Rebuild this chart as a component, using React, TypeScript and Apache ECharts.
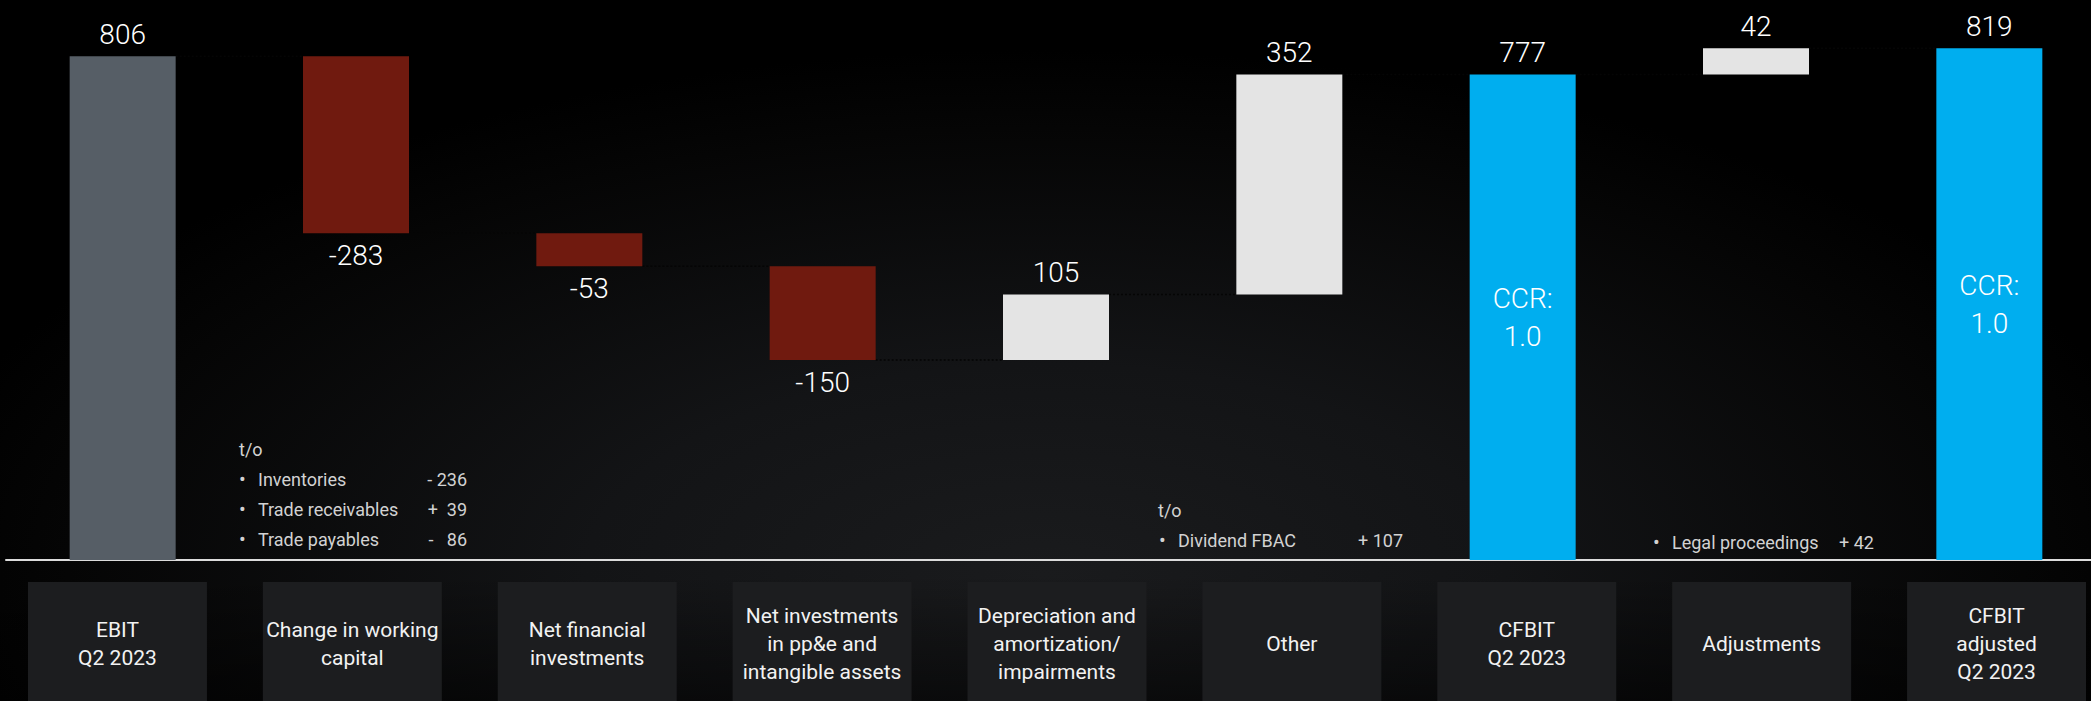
import React, { useEffect, useRef } from 'react';
import * as echarts from 'echarts';

const CATEGORIES = [
  'EBIT\nQ2 2023',
  'Change in working\ncapital',
  'Net financial\ninvestments',
  'Net investments\nin pp&e and\nintangible assets',
  'Depreciation and\namortization/\nimpairments',
  'Other',
  'CFBIT\nQ2 2023',
  'Adjustments',
  'CFBIT\nadjusted\nQ2 2023',
];
const VALUES = [806, -283, -53, -150, 105, 352, 777, 42, 819];
const IS_TOTAL = [true, false, false, false, false, false, true, false, true];
const INSIDE_LABELS = ['', '', '', '', '', '', 'CCR:\n1.0', '', 'CCR:\n1.0'];

const NOTE_WC_HEAD = 't/o';
const NOTE_WC_ITEMS = ['Inventories', 'Trade receivables', 'Trade payables'];
const NOTE_WC_VALUES = ['- 236', '+  39', '-   86'];
const NOTE_OTHER_HEAD = 't/o';
const NOTE_OTHER_ITEMS = ['Dividend FBAC'];
const NOTE_OTHER_VALUES = ['+ 107'];
const NOTE_ADJ_ITEMS = ['Legal proceedings'];
const NOTE_ADJ_VALUES = ['+ 42'];

const FONT = 'Roboto, "Noto Sans", sans-serif';
const C_EBIT = '#565e66';
const C_NEG = '#701a0f';
const C_POS = '#e4e4e4';
const C_TOTAL = '#00aeef';
const BAR_W = 106;

export default function App() {
  const ref = useRef<HTMLDivElement>(null);
  useEffect(() => {
    const chart = echarts.init(ref.current as HTMLDivElement, null, { renderer: 'svg' });

    const bases: number[] = [];
    const heights: number[] = [];
    const levels: number[] = [];
    let running = 0;
    VALUES.forEach((v, i) => {
      if (IS_TOTAL[i]) {
        bases.push(0);
        heights.push(v);
        running = v;
      } else if (v < 0) {
        running += v;
        bases.push(running);
        heights.push(-v);
      } else {
        bases.push(running);
        heights.push(v);
        running += v;
      }
      levels.push(running);
    });

    const colorOf = (i: number) => {
      if (IS_TOTAL[i]) return i === 0 ? C_EBIT : C_TOTAL;
      return VALUES[i] < 0 ? C_NEG : C_POS;
    };

    const deltaData = heights.map((h, i) => ({
      value: h,
      itemStyle: { color: colorOf(i) },
      label: {
        show: true,
        position: VALUES[i] < 0 ? 'bottom' : 'top',
        distance: 8,
        formatter: String(VALUES[i]),
        color: '#ffffff',
        fontFamily: FONT,
        fontWeight: 300,
        fontSize: 28,
      },
    }));

    const overlayData = VALUES.map((v, i) =>
      INSIDE_LABELS[i]
        ? {
            value: v,
            label: {
              show: true,
              position: 'inside',
              formatter: INSIDE_LABELS[i],
              color: '#ffffff',
              fontFamily: FONT,
              fontWeight: 300,
              fontSize: 28,
              lineHeight: 38,
              align: 'center',
            },
          }
        : '-'
    );

    const connectorData = levels.slice(0, -1).map((lv, i) => [i, lv]);

    const catData = CATEGORIES.map((c) => {
      const n = c.split('\n').length;
      const pad = (124 - n * 28) / 2;
      return { value: c, textStyle: { padding: [pad, 0, pad, 0] } };
    });

    const noteText = (text: string, x: number, y: number, align = 'left', size = 18) => ({
      type: 'text',
      x,
      y,
      silent: true,
      style: {
        text,
        fill: '#d2d2d2',
        fontFamily: FONT,
        fontSize: size,
        align,
        verticalAlign: 'middle',
      },
    });

    const graphics: any[] = [];
    graphics.push(noteText(NOTE_WC_HEAD, 239, 449));
    NOTE_WC_ITEMS.forEach((t, k) => {
      const y = 479 + k * 30;
      graphics.push(noteText('•', 239, y, 'left', 20));
      graphics.push(noteText(t, 258, y));
      graphics.push(noteText(NOTE_WC_VALUES[k], 467, y, 'right'));
    });
    graphics.push(noteText(NOTE_OTHER_HEAD, 1158, 510));
    NOTE_OTHER_ITEMS.forEach((t, k) => {
      const y = 540 + k * 30;
      graphics.push(noteText('•', 1159, y, 'left', 20));
      graphics.push(noteText(t, 1178, y));
      graphics.push(noteText(NOTE_OTHER_VALUES[k], 1403, y, 'right'));
    });
    NOTE_ADJ_ITEMS.forEach((t, k) => {
      const y = 542 + k * 30;
      graphics.push(noteText('•', 1653, y, 'left', 20));
      graphics.push(noteText(t, 1672, y));
      graphics.push(noteText(NOTE_ADJ_VALUES[k], 1874, y, 'right'));
    });

    chart.setOption({
      animation: false,
      backgroundColor: 'transparent',
      grid: [
        { left: 6, width: 2100, top: 0, bottom: 141, containLabel: false, outerBoundsMode: 'none' },
        { left: 0, width: 2114, top: 0, bottom: 141, containLabel: false, outerBoundsMode: 'none' },
      ],
      xAxis: [
        {
          type: 'category',
          gridIndex: 0,
          data: CATEGORIES,
          axisLine: { show: true, lineStyle: { color: '#dcdcdc', width: 2 } },
          axisTick: { show: false },
          axisLabel: { show: false },
          splitLine: { show: false },
        },
        {
          type: 'category',
          gridIndex: 1,
          data: catData,
          axisLine: { show: false },
          axisTick: { show: false },
          splitLine: { show: false },
          axisLabel: {
            show: true,
            interval: 0,
            margin: 22,
            width: 179,
            align: 'center',
            color: '#f2f2f2',
            fontFamily: FONT,
            fontSize: 21,
            lineHeight: 28,
            backgroundColor: '#1c1d1f',
            hideOverlap: false,
          },
        },
      ],
      yAxis: [
        { type: 'value', gridIndex: 0, min: 0, max: 896, show: false, splitLine: { show: false } },
        { type: 'value', gridIndex: 1, min: 0, max: 896, show: false, splitLine: { show: false } },
      ],
      series: [
        {
          name: 'base',
          type: 'bar',
          stack: 'w',
          xAxisIndex: 0,
          yAxisIndex: 0,
          barWidth: BAR_W,
          silent: true,
          itemStyle: { color: 'rgba(0,0,0,0)' },
          data: bases,
        },
        {
          name: 'delta',
          type: 'bar',
          stack: 'w',
          xAxisIndex: 0,
          yAxisIndex: 0,
          barWidth: BAR_W,
          data: deltaData,
        },
        {
          name: 'ratio',
          type: 'bar',
          xAxisIndex: 0,
          yAxisIndex: 0,
          barWidth: BAR_W,
          barGap: '-100%',
          silent: true,
          itemStyle: { color: 'rgba(0,0,0,0)' },
          data: overlayData,
          z: 5,
        },
        {
          name: 'connectors',
          type: 'custom',
          xAxisIndex: 0,
          yAxisIndex: 0,
          silent: true,
          data: connectorData,
          renderItem: (params: any, api: any) => {
            const i = api.value(0);
            const lv = api.value(1);
            const p1 = api.coord([i, lv]);
            const p2 = api.coord([i + 1, lv]);
            return {
              type: 'line',
              shape: { x1: p1[0] + BAR_W / 2, y1: p1[1], x2: p2[0] - BAR_W / 2, y2: p2[1] },
              style: { stroke: '#050505', lineWidth: 1.5, lineDash: [2, 2] },
            };
          },
        },
      ],
      graphic: graphics,
    });

    return () => chart.dispose();
  }, []);

  return (
    <div
      ref={ref}
      style={{
        position: 'absolute',
        left: 0,
        top: 0,
        width: 2091,
        height: 701,
        background:
          'linear-gradient(to bottom, rgba(0,0,0,0) 82%, rgba(0,0,0,0.55) 100%), radial-gradient(ellipse 55% 75% at 50% 82%, #1a1b1d 0%, #131416 40%, #050505 85%, #000 100%)',
      }}
    />
  );
}
